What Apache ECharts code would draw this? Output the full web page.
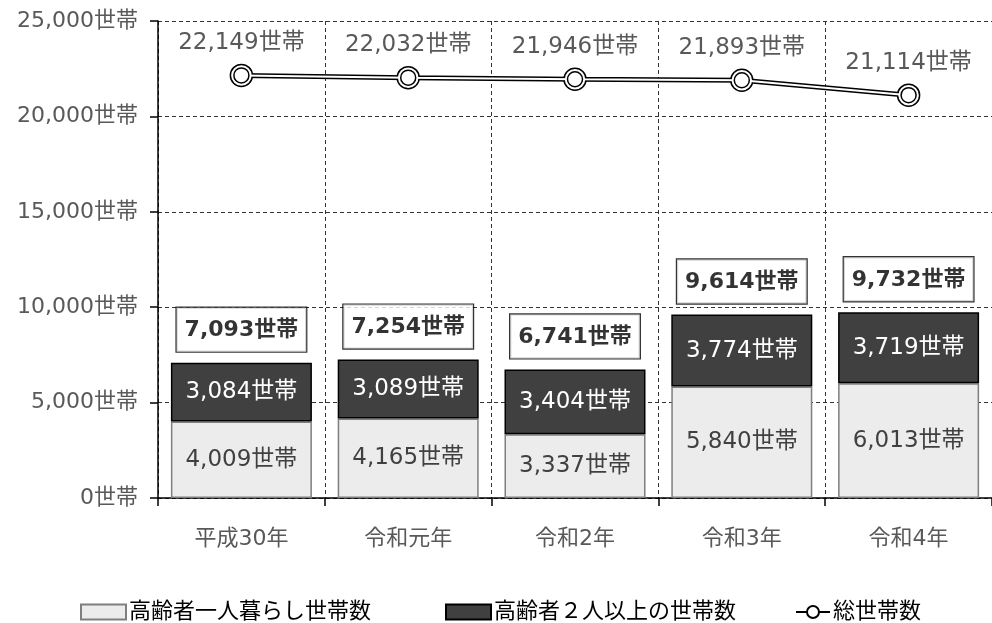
<!DOCTYPE html>
<html>
<head>
<meta charset="utf-8">
<script src="https://cdn.jsdelivr.net/npm/echarts@6/dist/echarts.min.js"></script>
<style>
  html, body { margin: 0; padding: 0; background: #fff; }
  #chart { width: 992px; height: 623px; }
</style>
</head>
<body>
<div id="chart"></div>
<script>
// 年度別の世帯数
const categories = ['平成30年', '令和元年', '令和2年', '令和3年', '令和4年'];
const singleElderly = [4009, 4165, 3337, 5840, 6013];   // 高齢者一人暮らし世帯数
const multiElderly = [3084, 3089, 3404, 3774, 3719];    // 高齢者２人以上の世帯数
const totalHouseholds = [22149, 22032, 21946, 21893, 21114]; // 総世帯数
const yTicks = [0, 5000, 10000, 15000, 20000, 25000];

const elderlyTotals = singleElderly.map((v, i) => v + multiElderly[i]);

const FONT = "'DejaVu Sans', 'Noto Sans CJK JP', sans-serif";
const fmt = v => v.toLocaleString('en-US') + '世帯';

const chart = echarts.init(document.getElementById('chart'), null, { renderer: 'canvas' });

const legendText = { fontFamily: FONT, fontSize: 22, color: '#000', padding: [0, 0, 0, -2] };

chart.setOption({
  animation: false,
  backgroundColor: '#fff',
  textStyle: { fontFamily: FONT },
  grid: { left: 158, top: 21, width: 847, height: 477, containLabel: false },
  legend: [
    { data: ['高齢者一人暮らし世帯数'], icon: 'rect', left: 75, top: 596, itemWidth: 45, itemHeight: 15, itemGap: 0, textStyle: legendText },
    { data: ['高齢者２人以上の世帯数'], icon: 'rect', left: 440, top: 596, itemWidth: 45, itemHeight: 15, itemGap: 0, textStyle: legendText },
    { data: ['総世帯数'], left: 790, top: 596, itemWidth: 34, itemHeight: 15, itemGap: 0, textStyle: legendText }
  ],
  xAxis: {
    type: 'category',
    data: categories,
    boundaryGap: true,
    axisLine: { lineStyle: { color: '#000', width: 1.5 } },
    axisTick: { show: true, length: 8, inside: false, lineStyle: { color: '#000', width: 1.5 } },
    axisLabel: { color: '#595959', fontSize: 22, margin: 30, fontFamily: FONT },
    splitLine: { show: true, lineStyle: { color: '#333', type: [4, 3], width: 1 } }
  },
  yAxis: {
    type: 'value',
    min: yTicks[0],
    max: yTicks[yTicks.length - 1],
    interval: 5000,
    axisLine: { show: true, lineStyle: { color: '#000', width: 1.5 } },
    axisTick: { show: true, length: 8, lineStyle: { color: '#000', width: 1.5 } },
    axisLabel: { color: '#595959', fontSize: 22, margin: 20, fontFamily: FONT, formatter: v => fmt(v) },
    splitLine: { show: true, lineStyle: { color: '#333', type: [4, 3], width: 1 } }
  },
  series: [
    {
      name: '高齢者一人暮らし世帯数',
      type: 'bar',
      stack: 'elderly',
      barWidth: 141,
      data: singleElderly,
      itemStyle: { color: '#ececec', borderColor: '#7f7f7f', borderWidth: 1.5 },
      label: { show: true, position: 'inside', color: '#404040', fontSize: 23, fontFamily: FONT, formatter: p => fmt(p.value) },
      z: 3
    },
    {
      name: '高齢者２人以上の世帯数',
      type: 'bar',
      stack: 'elderly',
      barWidth: 141,
      data: multiElderly,
      itemStyle: { color: '#404040', borderColor: '#000', borderWidth: 1.5 },
      label: { show: true, position: 'inside', color: '#fff', fontSize: 23, fontFamily: FONT, formatter: p => fmt(p.value) },
      z: 3
    },
    {
      // 高齢者世帯合計のラベル
      name: 'elderlyTotal',
      type: 'scatter',
      data: elderlyTotals,
      symbolSize: 0,
      silent: true,
      label: {
        show: true,
        position: 'top',
        distance: 11,
        formatter: p => fmt(p.value),
        color: '#000',
        fontWeight: 'bold',
        fontSize: 22,
        lineHeight: 22,
        fontFamily: FONT,
        backgroundColor: '#fff',
        borderColor: '#000',
        borderWidth: 1.2,
        padding: [12, 8, 10, 8]
      },
      z: 5
    },
    {
      name: '総世帯数',
      type: 'line',
      data: totalHouseholds,
      symbol: 'circle',
      symbolSize: 22,
      lineStyle: { color: '#000', width: 5 },
      itemStyle: { color: '#fff', borderColor: '#000', borderWidth: 1.5 },
      label: { show: true, position: 'top', distance: 9, color: '#595959', fontSize: 23, fontFamily: FONT, formatter: p => fmt(p.value) },
      z: 6
    },
    {
      // 二重線の内側
      name: 'totalInner',
      type: 'line',
      data: totalHouseholds,
      symbol: 'circle',
      symbolSize: 15,
      silent: true,
      lineStyle: { color: '#fff', width: 2 },
      itemStyle: { color: '#fff', borderColor: '#000', borderWidth: 1.5 },
      z: 7
    }
  ]
});
</script>
</body>
</html>
